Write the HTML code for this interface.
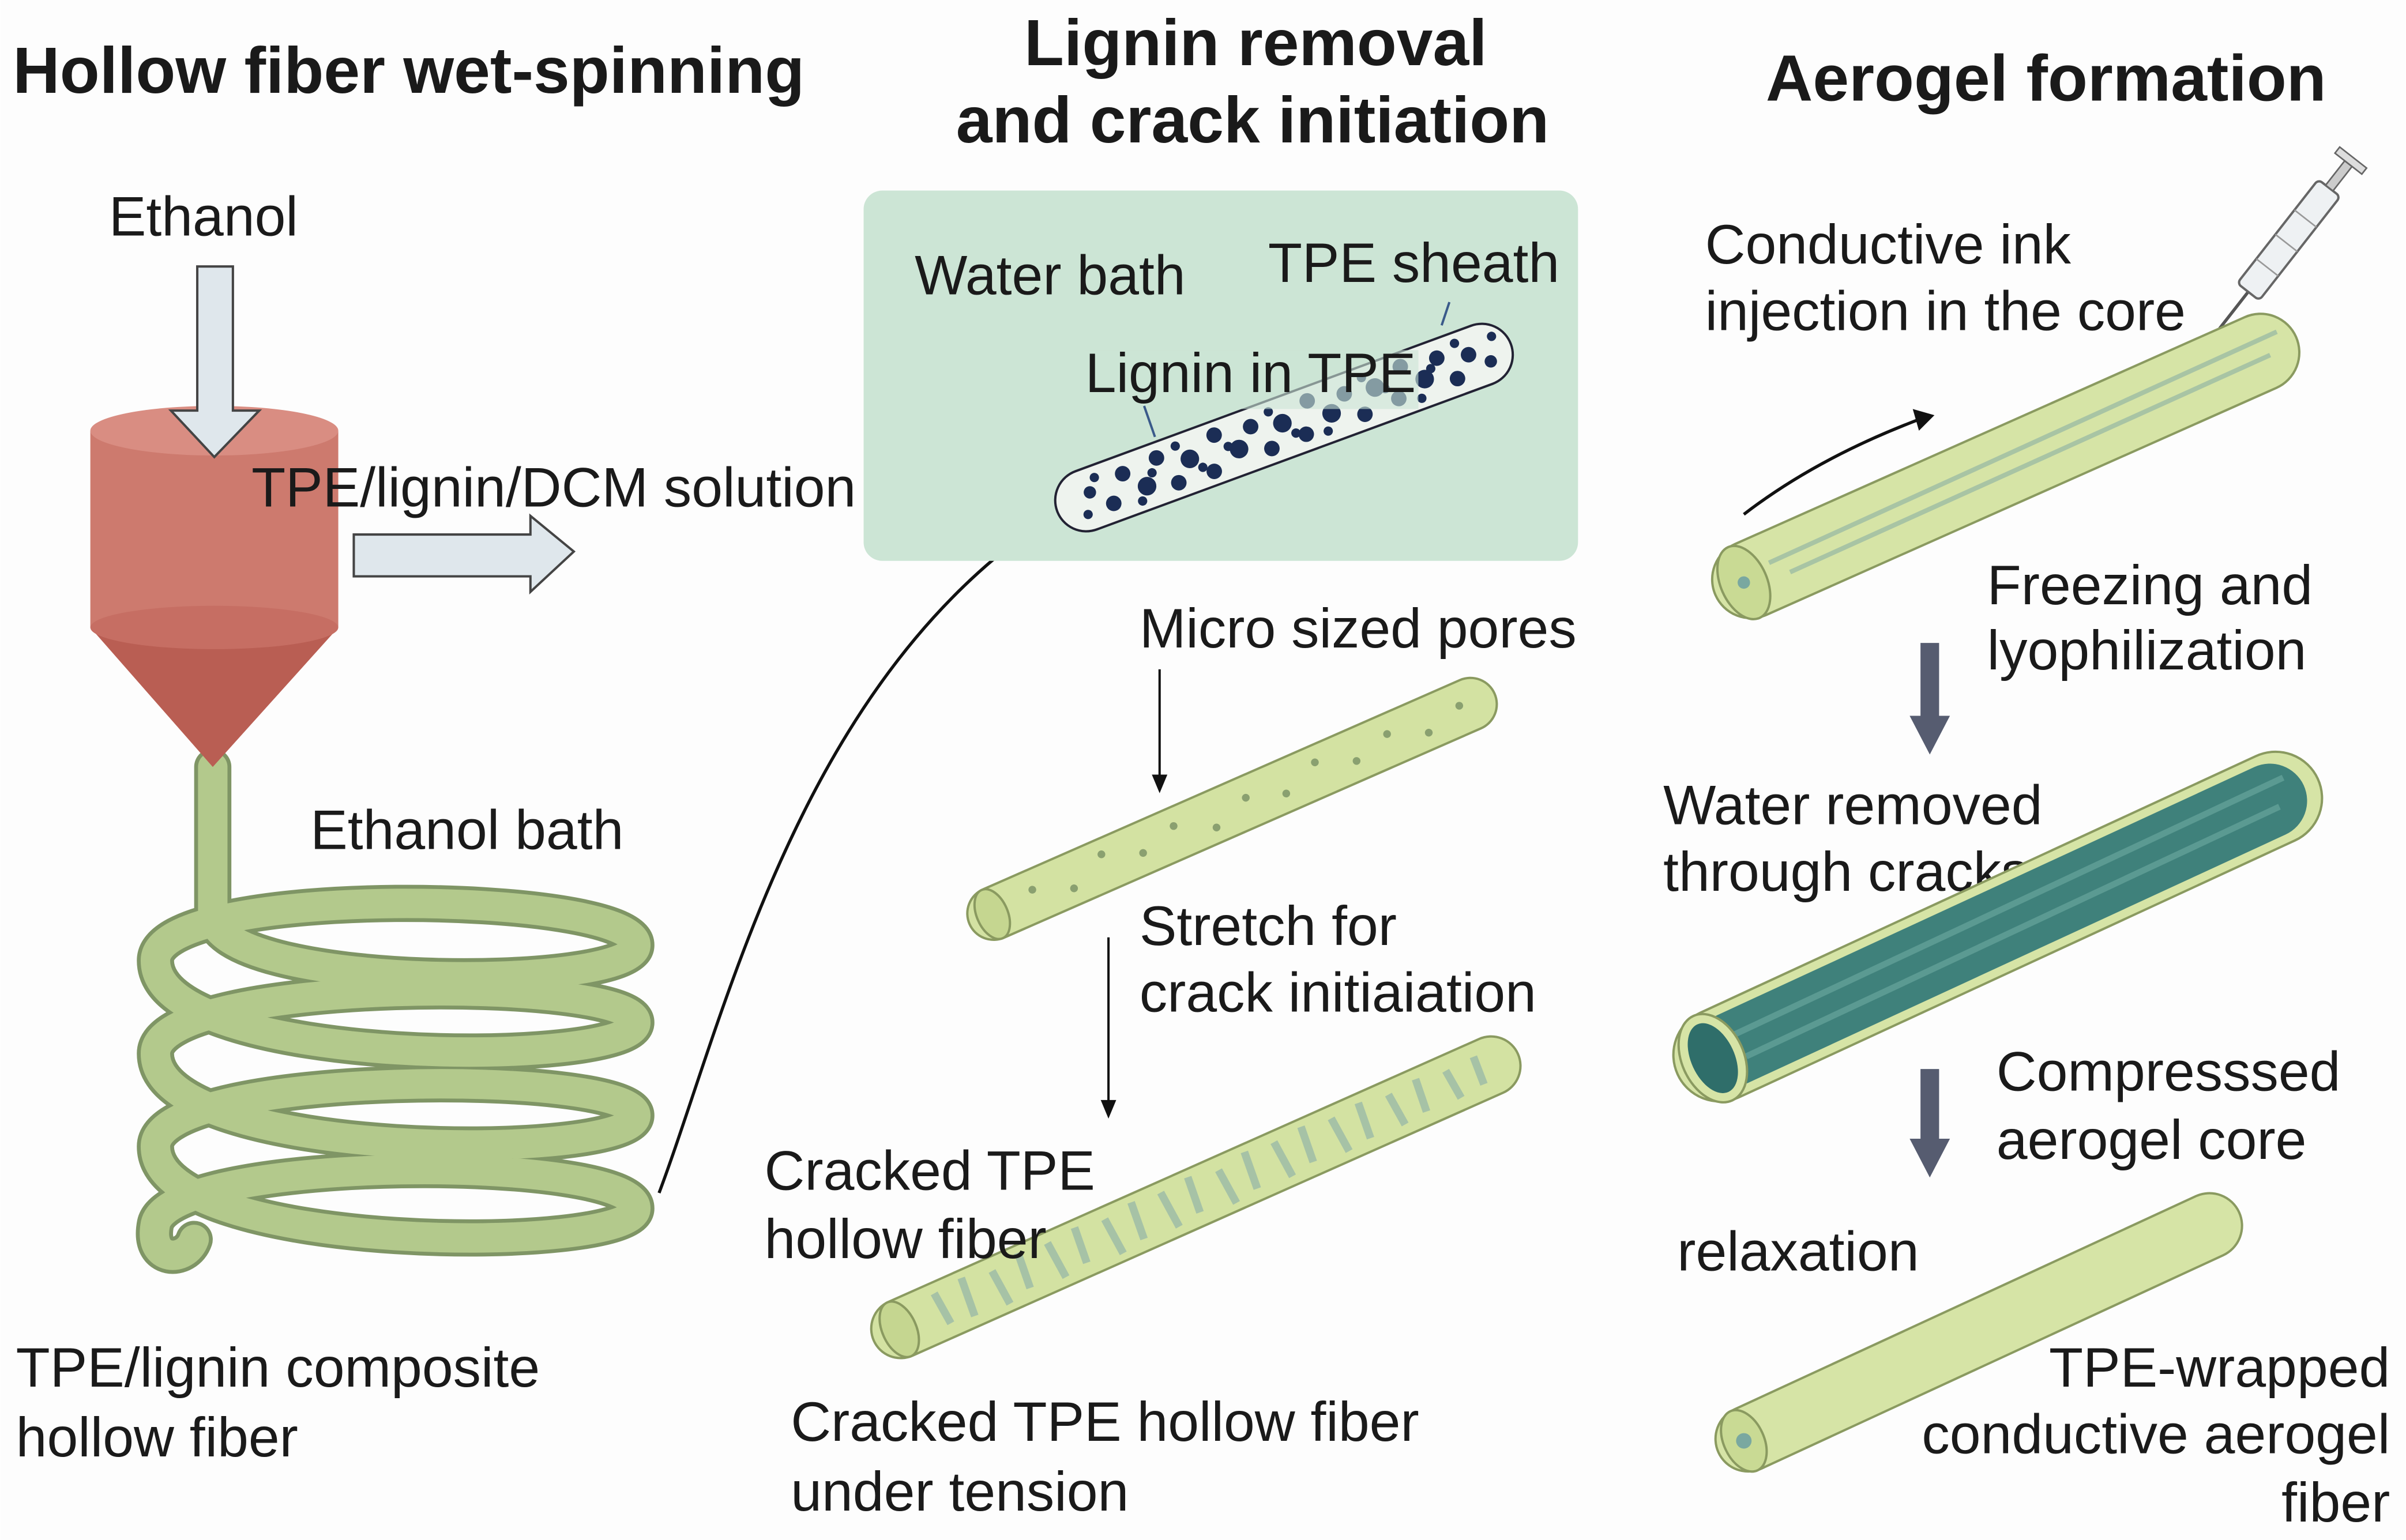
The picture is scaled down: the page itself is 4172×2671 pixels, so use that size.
<!DOCTYPE html>
<html><head><meta charset="utf-8"><style>
html,body{margin:0;padding:0;background:#fff}
svg{display:block}
text{font-family:"Liberation Sans",sans-serif;fill:#1a1a1a}
.t{font-size:36px}
.h{font-size:42px;font-weight:bold}
</style></head><body>
<svg width="4172" height="2671" viewBox="0 0 1552 994" xmlns="http://www.w3.org/2000/svg">
<rect width="1552" height="994" fill="#fdfdfd"/>
<!-- titles -->
<text class="h" x="8" y="60">Hollow fiber wet-spinning</text>
<text class="h" x="810" y="42" text-anchor="middle">Lignin removal</text>
<text class="h" x="808" y="92" text-anchor="middle">and crack initiation</text>
<text class="h" x="1320" y="65" text-anchor="middle">Aerogel formation</text>

<!-- coil -->
<g fill="none" stroke-linecap="round">
<path d="M137,495 L137,590 C137,640 410,640 410,610 C410,575 100,570 100,620 C100,690 410,690 410,660 C410,630 100,630 100,680 C100,750 410,750 410,720 C410,690 100,690 100,740 C100,810 410,810 410,780 C410,745 110,745 100,790 C95,815 120,815 125,800" stroke="#7f9565" stroke-width="24"/>
<path d="M137,495 L137,590 C137,640 410,640 410,610 C410,575 100,570 100,620 C100,690 410,690 410,660 C410,630 100,630 100,680 C100,750 410,750 410,720 C410,690 100,690 100,740 C100,810 410,810 410,780 C410,745 110,745 100,790 C95,815 120,815 125,800" stroke="#b3c98c" stroke-width="19"/>
</g>
<path d="M425,770 C470,650 520,420 700,320" fill="none" stroke="#111" stroke-width="2"/>

<!-- cylinder -->
<path d="M58,278 L58,405 L137,495 L218,405 L218,278 Z" fill="#cd7a6e"/>
<path d="M58,405 L137,495 L218,405 Z" fill="#b95e53"/>
<ellipse cx="138" cy="405" rx="80" ry="14" fill="#c66e63"/>
<ellipse cx="138" cy="278" rx="80" ry="16" fill="#d98d82"/>
<path d="M127,172 L150,172 L150,265 L167,265 L138,295 L110,265 L127,265 Z" fill="#dfe7ec" stroke="#444" stroke-width="1.5"/>
<path d="M228,345 L342,345 L342,333 L370,356 L342,382 L342,372 L228,372 Z" fill="#dfe7ec" stroke="#444" stroke-width="1.5"/>
<text class="t" x="70" y="152">Ethanol</text>
<text class="t" x="162" y="327">TPE/lignin/DCM solution</text>
<text class="t" x="200" y="548">Ethanol bath</text>
<text class="t" x="10" y="895">TPE/lignin composite</text>
<text class="t" x="10" y="940">hollow fiber</text>

<!-- water bath -->
<rect x="557" y="123" width="461" height="239" rx="12" fill="#cce5d5"/>
<text class="t" x="590" y="190">Water bath</text>
<text class="t" x="818" y="182">TPE sheath</text>
<g transform="translate(695,325) rotate(-20.2)">
<rect x="-14" y="-20" width="312" height="40" rx="20" fill="#eef3ee" stroke="#223" stroke-width="1.5"/>
<g fill="#1b2d55">
<circle cx="10" cy="-4" r="4"/><circle cx="22" cy="8" r="5"/><circle cx="34" cy="-8" r="5"/><circle cx="46" cy="5" r="6"/><circle cx="58" cy="-10" r="5"/><circle cx="66" cy="10" r="5"/><circle cx="78" cy="-2" r="6"/><circle cx="90" cy="11" r="5"/><circle cx="98" cy="-11" r="5"/><circle cx="110" cy="3" r="6"/><circle cx="122" cy="-8" r="5"/><circle cx="130" cy="10" r="5"/><circle cx="142" cy="-3" r="6"/><circle cx="154" cy="9" r="5"/><circle cx="162" cy="-11" r="5"/><circle cx="174" cy="2" r="6"/><circle cx="186" cy="-7" r="5"/><circle cx="194" cy="10" r="5"/><circle cx="206" cy="-4" r="6"/><circle cx="218" cy="8" r="5"/><circle cx="226" cy="-11" r="5"/><circle cx="238" cy="2" r="6"/><circle cx="250" cy="-8" r="5"/><circle cx="258" cy="9" r="5"/><circle cx="270" cy="-3" r="5"/><circle cx="282" cy="6" r="4"/><circle cx="288" cy="-9" r="3"/><circle cx="4" cy="9" r="3"/>
<circle cx="16" cy="-12" r="3"/><circle cx="40" cy="13" r="3"/><circle cx="72" cy="-13" r="3"/><circle cx="104" cy="-1" r="3"/><circle cx="136" cy="-13" r="3"/><circle cx="168" cy="12" r="3"/><circle cx="200" cy="-13" r="3"/><circle cx="232" cy="13" r="3"/><circle cx="264" cy="-13" r="3"/><circle cx="52" cy="-2" r="3"/><circle cx="84" cy="6" r="3"/><circle cx="148" cy="6" r="3"/><circle cx="212" cy="-1" r="3"/><circle cx="244" cy="-3" r="3"/>
</g>
</g>
<rect x="700" y="226" width="215" height="38" fill="#cce5d5" opacity="0.6"/>
<text class="t" x="700" y="253">Lignin in TPE</text>
<path d="M738,262 L745,282 M935,195 L930,210" stroke="#3a5a8a" stroke-width="1.5"/>

<!-- micro pores fiber -->
<text class="t" x="735" y="418">Micro sized pores</text>
<path d="M748,432 L748,505" stroke="#111" stroke-width="1.5"/><path d="M743,500 L748,512 L753,500 Z" fill="#111"/>
<g transform="translate(640,590) rotate(-23.7)">
<rect x="-16" y="-17" width="370" height="34" rx="17" fill="#d3e2a2" stroke="#8a9a60" stroke-width="1.5"/>
<ellipse cx="0" cy="0" rx="10" ry="17" fill="#c5d690" stroke="#8a9a60" stroke-width="1.5"/>
<g fill="#8aa070"><circle cx="30" cy="-4" r="2.5"/><circle cx="55" cy="6" r="2.5"/><circle cx="80" cy="-7" r="2.5"/><circle cx="105" cy="3" r="2.5"/><circle cx="130" cy="-5" r="2.5"/><circle cx="155" cy="7" r="2.5"/><circle cx="180" cy="-3" r="2.5"/><circle cx="205" cy="5" r="2.5"/><circle cx="230" cy="-6" r="2.5"/><circle cx="255" cy="4" r="2.5"/><circle cx="280" cy="-4" r="2.5"/><circle cx="305" cy="6" r="2.5"/><circle cx="330" cy="-2" r="2.5"/></g>
</g>
<text class="t" x="735" y="610">Stretch for</text>
<text class="t" x="735" y="653">crack initiaiation</text>
<path d="M715,605 L715,715" stroke="#111" stroke-width="1.5"/><path d="M710,710 L715,722 L720,710 Z" fill="#111"/>
<g transform="translate(580,858) rotate(-24)">
<rect x="-18" y="-19" width="455" height="38" rx="19" fill="#d3e2a2" stroke="#8a9a60" stroke-width="1.5"/>
<ellipse cx="0" cy="0" rx="11" ry="19" fill="#c5d690" stroke="#8a9a60" stroke-width="1.5"/>
<g stroke="#98b8a8" stroke-width="5" opacity="0.75">
<path d="M30,-12 L32,10 M50,-14 L48,12 M70,-10 L72,14 M90,-14 L88,10 M110,-12 L112,13 M130,-14 L128,10 M150,-11 L152,14 M170,-14 L168,11 M190,-12 L192,13 M210,-14 L208,10 M230,-10 L232,14 M250,-14 L248,11 M270,-12 L272,13 M290,-14 L288,10 M310,-11 L312,13 M330,-13 L328,11 M350,-10 L352,12 M370,-12 L368,10 M390,-9 L392,11 M410,-10 L409,9"/>
</g>
</g>
<text class="t" x="493" y="768">Cracked TPE</text>
<text class="t" x="493" y="812">hollow fiber</text>
<text class="t" x="510" y="930">Cracked TPE hollow fiber</text>
<text class="t" x="510" y="975">under tension</text>

<!-- right column -->
<text class="t" x="1100" y="170">Conductive ink</text>
<text class="t" x="1100" y="213">injection in  the core</text>
<g transform="translate(1432,212) rotate(-52)">
<line x1="0" y1="0" x2="30" y2="0" stroke="#555" stroke-width="2"/>
<rect x="30" y="-9" width="85" height="18" rx="3" fill="#eef1f3" stroke="#666" stroke-width="1.5"/>
<rect x="115" y="-3" width="20" height="6" fill="#ccc" stroke="#666"/>
<rect x="135" y="-11" width="5" height="22" fill="#ddd" stroke="#666"/>
<path d="M50,-9 L50,9 M70,-9 L70,9 M90,-9 L90,9" stroke="#999"/>
</g>
<g transform="translate(1125,376) rotate(-24)">
<rect x="-20" y="-25" width="410" height="50" rx="25" fill="#d6e4a6" stroke="#8a9a60" stroke-width="1.5"/>
<path d="M20,-5 L380,-8 M30,6 L370,4" stroke="#a8c4a4" stroke-width="3"/>
<ellipse cx="0" cy="0" rx="15" ry="25" fill="#c9da94" stroke="#8a9a60" stroke-width="1.5"/>
<circle cx="0" cy="0" r="4" fill="#7aa8a0"/>
</g>
<path d="M1125,332 C1160,305 1200,285 1240,270" fill="none" stroke="#111" stroke-width="2"/>
<path d="M1234,264 L1248,268 L1238,278 Z" fill="#111"/>
<text class="t" x="1282" y="390">Freezing and</text>
<text class="t" x="1282" y="432">lyophilization</text>
<path d="M1239,415 L1251,415 L1251,462 L1258,462 L1245,487 L1232,462 L1239,462 Z" fill="#565c70"/>
<text class="t" x="1073" y="532">Water removed</text>
<text class="t" x="1073" y="575">through cracks</text>
<g transform="translate(1105,683) rotate(-24.8)">
<rect x="-25" y="-30" width="455" height="60" rx="30" fill="#d6e4a6" stroke="#8a9a60" stroke-width="1.5"/>
<rect x="-10" y="-24" width="430" height="48" rx="24" fill="#3f817b"/>
<path d="M10,-8 L410,-10 M20,8 L400,6" stroke="#5b9a92" stroke-width="4"/>
<ellipse cx="0" cy="0" rx="20" ry="30" fill="#d6e4a6" stroke="#8a9a60" stroke-width="1.5"/>
<ellipse cx="0" cy="0" rx="14" ry="24" fill="#2f6e6a"/>
</g>
<path d="M1239,690 L1251,690 L1251,735 L1258,735 L1245,760 L1232,735 L1239,735 Z" fill="#565c70"/>
<text class="t" x="1288" y="704">Compresssed</text>
<text class="t" x="1288" y="748">aerogel core</text>
<text class="t" x="1082" y="820">relaxation</text>
<g transform="translate(1125,930) rotate(-24.8)">
<rect x="-18" y="-21" width="370" height="42" rx="21" fill="#d6e4a6" stroke="#8a9a60" stroke-width="1.5"/>
<ellipse cx="0" cy="0" rx="13" ry="21" fill="#c9da94" stroke="#8a9a60" stroke-width="1.5"/>
<circle cx="0" cy="0" r="5" fill="#7aa8a0"/>
</g>
<text class="t" x="1542" y="895" text-anchor="end">TPE-wrapped</text>
<text class="t" x="1542" y="938" text-anchor="end">conductive aerogel</text>
<text class="t" x="1542" y="982" text-anchor="end">fiber</text>
</svg>
</body></html>
